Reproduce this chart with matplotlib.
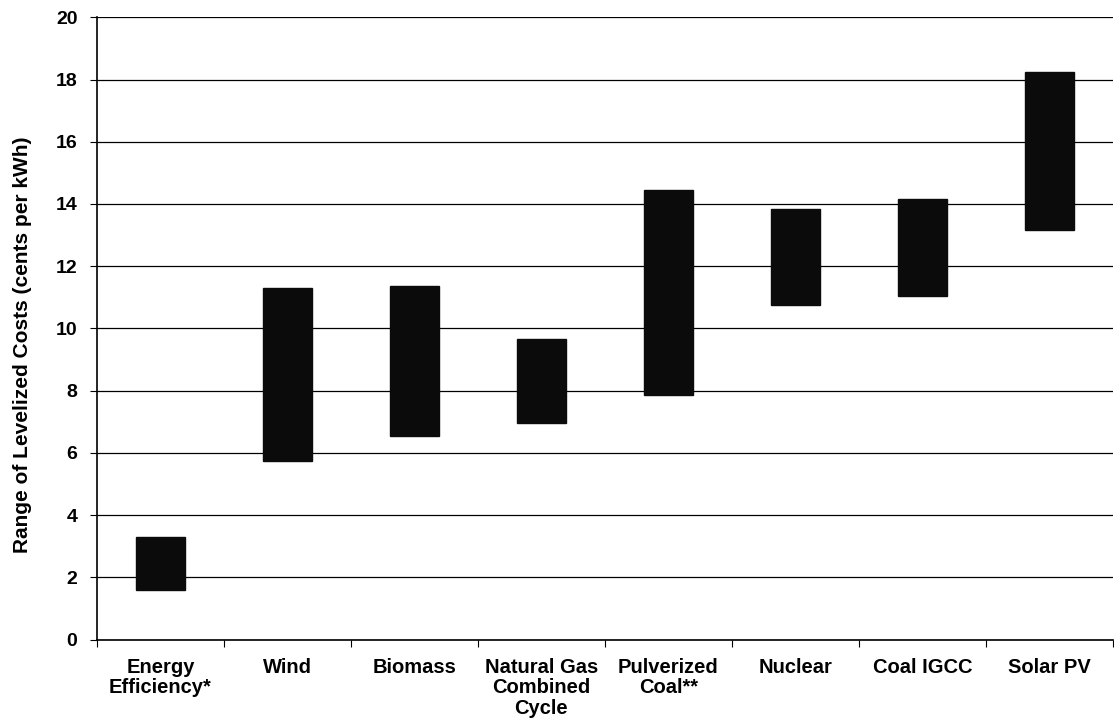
import matplotlib
matplotlib.use('Agg')
import matplotlib.pyplot as plt
import numpy as np

plt.rcParams['font.family'] = ['Liberation Sans', 'DejaVu Sans']

# 各技术的平准化成本区间 (cents per kWh)
categories = ['Energy\nEfficiency*', 'Wind', 'Biomass', 'Natural Gas\nCombined\nCycle',
              'Pulverized\nCoal**', 'Nuclear', 'Coal IGCC', 'Solar PV']
low_cost = [1.6, 5.75, 6.55, 6.95, 7.85, 10.75, 11.05, 13.15]
high_cost = [3.3, 11.3, 11.35, 9.65, 14.45, 13.85, 14.15, 18.25]
y_ticks = [0, 2, 4, 6, 8, 10, 12, 14, 16, 18, 20]

fig = plt.figure(figsize=(11.14, 7.21), dpi=100, facecolor='white')
ax = fig.add_axes([0.087, 0.113, 0.912, 0.863])

x = np.arange(len(categories))
heights = np.array(high_cost) - np.array(low_cost)
ax.bar(x, heights, bottom=low_cost, width=0.39, color='#0b0b0b',
       edgecolor='#0b0b0b', zorder=3)

ax.set_xlim(-0.5, len(categories) - 0.5)
ax.set_ylim(0, 20)
ax.set_yticks(y_ticks)
ax.set_yticklabels([str(v) for v in y_ticks], fontsize=14, fontweight='bold')
ax.yaxis.grid(True, color='black', linewidth=0.9, zorder=0)

# 类别标签放在主刻度，刻度线画在类别分界处
ax.set_xticks(x)
ax.set_xticklabels(categories, fontsize=14.5, fontweight='bold', linespacing=1.1)
ax.tick_params(axis='x', which='major', length=0, pad=13)
ax.set_xticks(np.arange(-0.5, len(categories)), minor=True)
ax.tick_params(axis='x', which='minor', length=5, width=0.8, color='black')
ax.tick_params(axis='y', length=5, width=0.8, pad=9)

for side in ['top', 'right']:
    ax.spines[side].set_visible(False)
ax.spines['left'].set_linewidth(1.2)
ax.spines['bottom'].set_linewidth(1.2)

ax.set_ylabel('Range of Levelized Costs (cents per kWh)', fontsize=15,
              fontweight='bold')
ax.yaxis.set_label_coords(-0.064, 0.474)

plt.savefig('out.png', dpi=100)
